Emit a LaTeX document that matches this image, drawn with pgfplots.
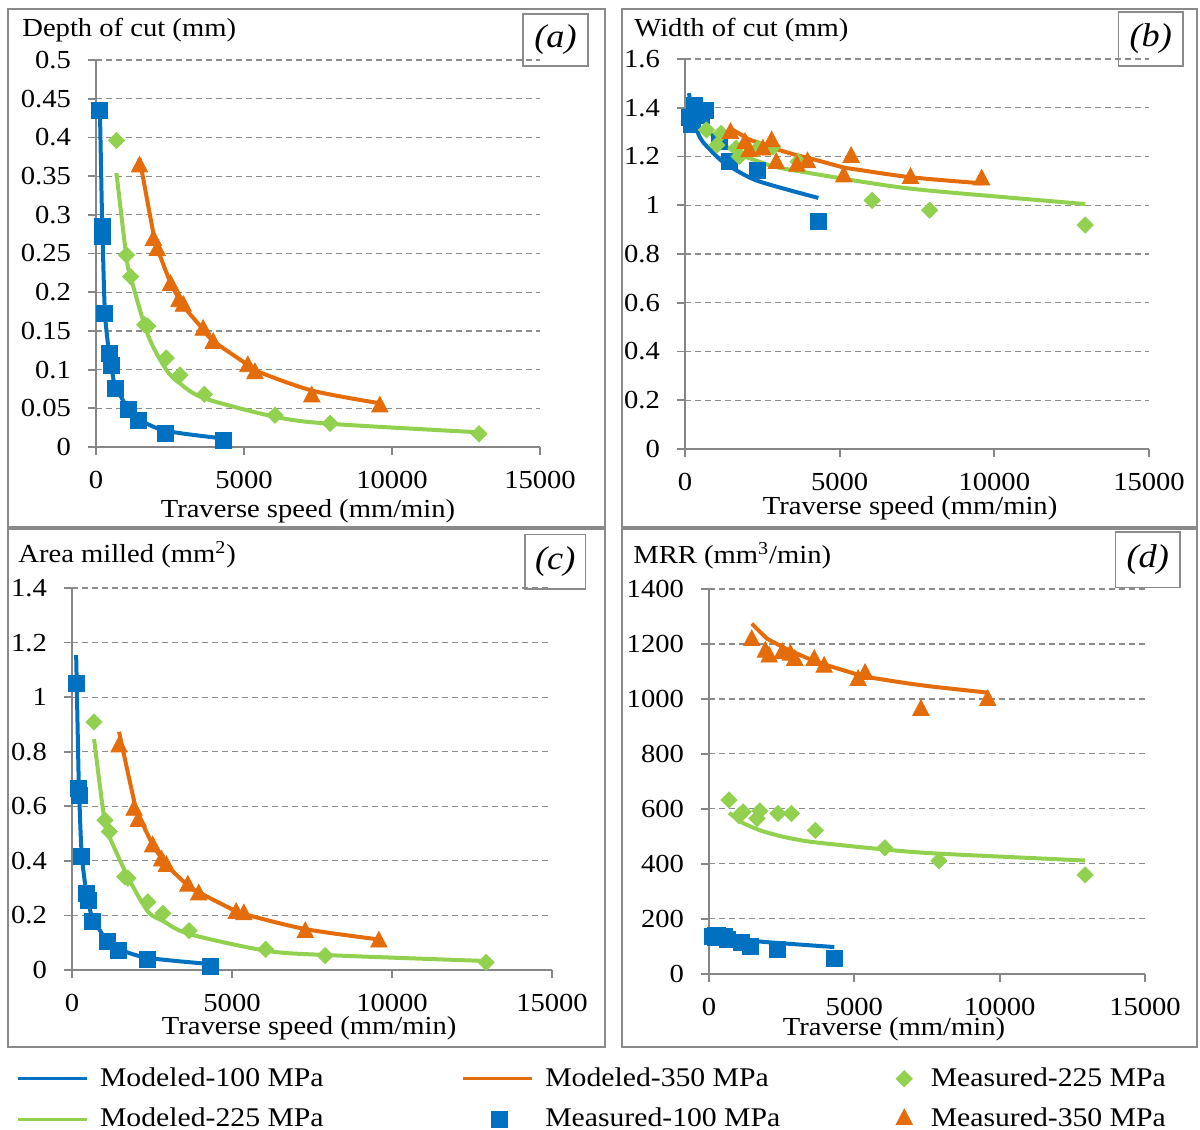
\documentclass[border=0pt]{standalone}
\usepackage{fontspec}
\setmainfont{Liberation Serif}[FakeStretch=1.1]
\usepackage{pgfplots}
\pgfplotsset{compat=1.18}

\definecolor{cblue}{HTML}{0070C0}
\definecolor{cgreen}{HTML}{92D050}
\definecolor{corange}{HTML}{E46C0A}
\definecolor{axgray}{HTML}{868686}
\definecolor{gridgray}{HTML}{8C8C8C}
\definecolor{framegray}{HTML}{8A8A8A}

\pgfplotsset{
  panel/.style={
    scale only axis, clip=false,
    xmin=0, xmax=15000, ymin=0,
    axis lines*=left,
    axis line style={axgray, line width=0.9pt},
    xtick={0,5000,10000,15000},
    tick align=outside, major tick length=4pt,
    tick style={axgray, line width=0.9pt},
    ymajorgrids,
    grid style={gridgray, dash pattern=on 3pt off 2pt, line width=0.6pt},
    scaled ticks=false,
    /pgf/number format/1000 sep={},
    /pgf/number format/assume math mode=true,
    yticklabel style={/pgf/number format/fixed, /pgf/number format/precision=2, xshift=-4pt},
    xticklabel style={yshift=-3.5pt},
    ylabel style={rotate=-90, anchor=west, inner sep=0pt},
    xlabel style={anchor=center, yshift=-1.5pt},
  },
  mod100/.style={color=cblue, line width=2pt, smooth, no markers},
  mod225/.style={color=cgreen, line width=2pt, smooth, no markers},
  mod350/.style={color=corange, line width=2pt, smooth, no markers},
  meas100/.style={color=cblue, only marks, mark=square*, mark size=4pt},
  meas225/.style={color=cgreen, only marks, mark=square*, mark size=2.85pt, mark options={rotate=45}},
  meas350/.style={color=corange, only marks, mark=triangle*, mark size=4.7pt, mark options={yscale=1.1}},
  legline/.style={legend image code/.code={\draw[##1, line width=1.6pt] (0pt,0pt) -- (34.5pt,0pt);}},
  legmark/.style={legend image code/.code={\path[draw=none, fill=none] (0pt,0pt) -- (34.5pt,0pt); \draw[##1] plot coordinates {(#1,0pt)};}},
}

\begin{document}
\fontsize{13}{15.6}\selectfont
\begin{tikzpicture}
\path[use as bounding box] (0pt,0pt) rectangle (600pt,-565pt);

% panel frames
\draw[framegray, line width=0.8pt] (4pt,-4.5pt) rectangle (302.5pt,-263.5pt);
\draw[framegray, line width=0.8pt] (311pt,-4.5pt) rectangle (598.5pt,-263.5pt);
\draw[framegray, line width=0.8pt] (4pt,-264.5pt) rectangle (302.5pt,-523.5pt);
\draw[framegray, line width=0.8pt] (311pt,-264.5pt) rectangle (598.5pt,-523.5pt);

% (a) depth of cut
\begin{axis}[panel,
  at={(48pt,-223.5pt)}, anchor=south west,
  width=222pt, height=193.5pt,
  ymax=0.5,
  ytick={0,0.05,0.1,0.15,0.2,0.25,0.3,0.35,0.4,0.45,0.5},
  ylabel={Depth of cut (mm)},
  ylabel style={at={(rel axis cs:-0.1667,1.0775)}},
  xlabel={Traverse speed (mm/min)},
  xlabel style={at={(rel axis cs:0.4775,-0.1576)}},
]
\addplot[mod100] coordinates {(130,0.44) (210,0.285) (225,0.268) (300,0.175) (440,0.122) (525,0.104) (645,0.08) (1110,0.048) (1440,0.036) (2350,0.021) (4310,0.011)};
\addplot[mod350] coordinates {(1470,0.373) (1940,0.276) (2070,0.257) (2520,0.212) (2800,0.192) (2950,0.182) (3620,0.152) (3960,0.137) (5130,0.106) (5370,0.099) (7290,0.073) (9590,0.0565)};
\addplot[mod225] coordinates {(690,0.354) (1030,0.245) (1170,0.22) (1750,0.145) (2370,0.10) (2840,0.082) (3660,0.063) (6050,0.039) (7910,0.030) (12940,0.019)};
\addplot[meas100] coordinates {(130,0.435) (210,0.285) (225,0.272) (300,0.173) (440,0.121) (525,0.106) (645,0.076) (1110,0.048) (1440,0.035) (2350,0.018) (4310,0.009)};
\addplot[meas225] coordinates {(690,0.396) (1030,0.248) (1170,0.220) (1650,0.158) (1750,0.156) (2370,0.115) (2840,0.093) (3660,0.068) (6050,0.041) (7910,0.0305) (12940,0.017)};
\addplot[meas350] coordinates {(1470,0.362) (1940,0.267) (2070,0.254) (2520,0.209) (2800,0.188) (2950,0.182) (3620,0.151) (3960,0.134) (5130,0.104) (5370,0.095) (7290,0.065) (9590,0.052)};
\end{axis}

% (b) width of cut
\begin{axis}[panel,
  at={(342.5pt,-224.5pt)}, anchor=south west,
  width=232pt, height=195pt,
  ymax=1.6,
  ytick={0,0.2,0.4,0.6,0.8,1,1.2,1.4,1.6},
  ylabel={Width of cut (mm)},
  ylabel style={at={(rel axis cs:-0.1099,1.0744)}},
  xlabel={Traverse speed (mm/min)},
  xlabel style={at={(rel axis cs:0.485,-0.1436)}},
]
\addplot[mod100] coordinates {(130,1.46) (210,1.39) (225,1.38) (300,1.335) (440,1.29) (525,1.27) (645,1.25) (1110,1.19) (1440,1.16) (2350,1.10) (4310,1.03)};
\addplot[mod350] coordinates {(1470,1.315) (1940,1.28) (2070,1.27) (2520,1.25) (2800,1.235) (2950,1.23) (3620,1.205) (3960,1.195) (5130,1.155) (5370,1.15) (7290,1.115) (9590,1.09)};
\addplot[mod225] coordinates {(690,1.31) (1030,1.27) (1170,1.255) (1750,1.21) (2370,1.18) (2840,1.16) (3660,1.14) (6050,1.09) (7910,1.06) (12940,1.005)};
\addplot[meas100] coordinates {(130,1.36) (210,1.33) (225,1.34) (300,1.41) (440,1.38) (525,1.37) (645,1.39) (1110,1.26) (1440,1.18) (2350,1.145) (4310,0.933)};
\addplot[meas225] coordinates {(690,1.309) (1030,1.247) (1170,1.295) (1650,1.234) (1750,1.20) (2370,1.234) (2840,1.24) (3660,1.179) (6050,1.02) (7910,0.98) (12940,0.919)};
\addplot[meas350] coordinates {(1470,1.295) (1940,1.254) (2070,1.22) (2520,1.227) (2800,1.261) (2950,1.172) (3620,1.161) (3960,1.175) (5130,1.117) (5370,1.197) (7290,1.111) (9590,1.104)};
\end{axis}

% (c) area milled, with the shared legend
\begin{axis}[panel,
  at={(36pt,-485pt)}, anchor=south west,
  width=240pt, height=191pt,
  ymax=1.4,
  ytick={0,0.2,0.4,0.6,0.8,1,1.2,1.4},
  ylabel={Area milled (mm\textsuperscript{2})},
  ylabel style={at={(rel axis cs:-0.1125,1.0864)}},
  xlabel={Traverse speed (mm/min)},
  xlabel style={at={(rel axis cs:0.494,-0.144)}},
  legend columns=3,
  legend cell align=left,
  legend style={at={(rel axis cs:-0.1167,-0.254)}, anchor=north west,
    draw=none, fill=none, inner sep=0pt, row sep=9pt,
    nodes={inner sep=0pt}, font=\fontsize{13.5}{16}\selectfont,
    /tikz/every odd column/.append style={column sep=5.75pt}},
]
\addplot[mod100, forget plot] coordinates {(130,1.154) (210,0.69) (225,0.645) (300,0.43) (440,0.29) (525,0.245) (645,0.19) (1110,0.105) (1440,0.078) (2350,0.045) (4310,0.022)};
\addplot[mod350, forget plot] coordinates {(1470,0.873) (1940,0.62) (2070,0.57) (2520,0.46) (2800,0.41) (2950,0.385) (3620,0.31) (3960,0.285) (5130,0.215) (5370,0.205) (7290,0.15) (9590,0.112)};
\addplot[mod225, forget plot] coordinates {(690,0.846) (1030,0.535) (1170,0.488) (1750,0.34) (2370,0.215) (2840,0.18) (3660,0.132) (6050,0.071) (7910,0.055) (12940,0.033)};
\addplot[meas100, forget plot] coordinates {(130,1.05) (210,0.666) (225,0.641) (300,0.415) (440,0.281) (525,0.256) (645,0.177) (1110,0.104) (1440,0.073) (2350,0.040) (4310,0.015)};
\addplot[meas225, forget plot] coordinates {(690,0.909) (1030,0.549) (1170,0.507) (1650,0.342) (1750,0.336) (2370,0.250) (2840,0.208) (3660,0.144) (6050,0.076) (7910,0.053) (12940,0.028)};
\addplot[meas350, forget plot] coordinates {(1470,0.818) (1940,0.586) (2070,0.545) (2520,0.452) (2800,0.40) (2950,0.38) (3620,0.308) (3960,0.276) (5130,0.208) (5370,0.203) (7290,0.138) (9590,0.103)};
\addlegendimage{mod100, legline}
\addlegendentry{\makebox[180.75pt][l]{Modeled-100 MPa}}
\addlegendimage{mod350, legline}
\addlegendentry{\makebox[152.5pt][l]{Modeled-350 MPa}}
\addlegendimage{meas225, legmark=27pt}
\addlegendentry{Measured-225 MPa}
\addlegendimage{mod225, legline}
\addlegendentry{\makebox[180.75pt][l]{Modeled-225 MPa}}
\addlegendimage{meas100, legmark=18pt}
\addlegendentry{\makebox[152.5pt][l]{Measured-100 MPa}}
\addlegendimage{meas350, legmark=27pt}
\addlegendentry{Measured-350 MPa}
\end{axis}

% (d) MRR
\begin{axis}[panel,
  at={(354.5pt,-486.85pt)}, anchor=south west,
  width=218pt, height=192.35pt,
  ymax=1400,
  ytick={0,200,400,600,800,1000,1200,1400},
  ylabel={MRR (mm\textsuperscript{3}/min)},
  ylabel style={at={(rel axis cs:-0.1743,1.0858)}},
  xlabel={Traverse (mm/min)},
  xlabel style={at={(rel axis cs:0.4243,-0.1378)}},
]
\addplot[mod100] coordinates {(130,150) (210,146) (225,145) (300,142) (440,138) (525,136) (645,133) (1110,125) (1440,120) (2350,112) (4310,97)};
\addplot[mod350] coordinates {(1470,1274) (1940,1225) (2070,1215) (2520,1190) (2800,1175) (2950,1168) (3620,1138) (3960,1126) (5130,1088) (5370,1081) (7290,1050) (9590,1023)};
\addplot[mod225] coordinates {(690,585) (1030,558) (1170,548) (1750,522) (2370,503) (2840,492) (3660,478) (6050,452) (7910,437) (12940,412)};
\addplot[meas100] coordinates {(130,135) (210,138) (225,132) (300,138) (440,135) (525,134) (645,125) (1110,115) (1440,98) (2350,89) (4310,56)};
\addplot[meas225] coordinates {(690,632) (1030,575) (1170,589) (1650,565) (1750,593) (2370,583) (2840,583) (3660,522) (6050,458) (7910,411) (12940,360)};
\addplot[meas350] coordinates {(1470,1213) (1940,1171) (2070,1153) (2520,1166) (2800,1160) (2950,1141) (3620,1141) (3960,1116) (5130,1068) (5370,1090) (7290,959) (9590,995)};
\end{axis}

% panel letters
\begin{scope}[every node/.style={draw=framegray, line width=0.8pt, inner sep=0pt, font=\fontsize{16.5}{18}\selectfont\itshape}]
\node[minimum width=32.5pt, minimum height=26pt] at (277.75pt,-20pt) {(a)};
\node[minimum width=32.2pt, minimum height=27pt] at (575.4pt,-19.5pt) {(b)};
\node[minimum width=30.25pt, minimum height=27.25pt] at (277.6pt,-280.9pt) {(c)};
\node[minimum width=32.25pt, minimum height=27.75pt] at (573.9pt,-279.9pt) {(d)};
\end{scope}
\end{tikzpicture}
\end{document}
